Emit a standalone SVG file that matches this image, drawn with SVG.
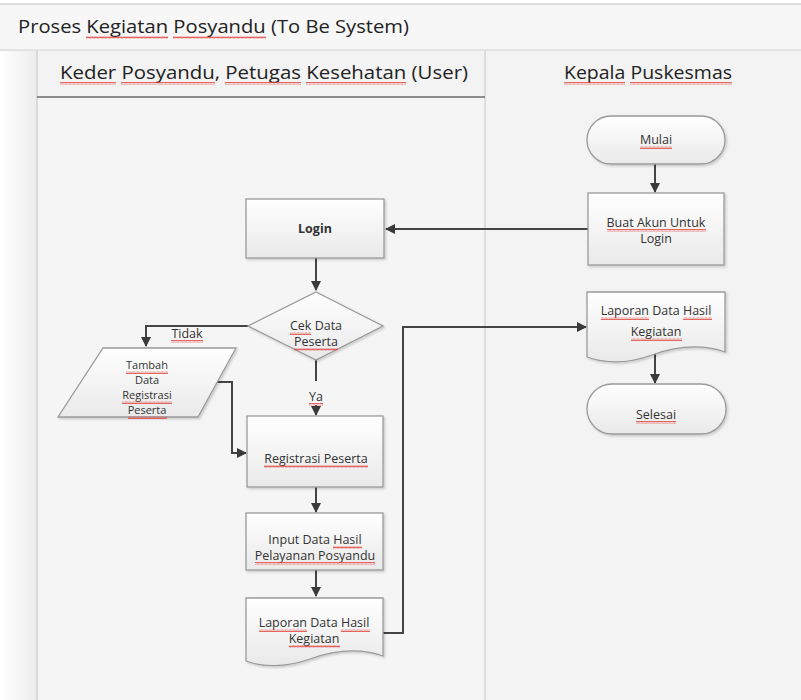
<svg xmlns="http://www.w3.org/2000/svg" width="801" height="700" viewBox="0 0 801 700">
<defs>
<linearGradient id="nodeGrad" x1="0" y1="0" x2="0" y2="1">
<stop offset="0" stop-color="#ffffff"/>
<stop offset="1" stop-color="#e9e9e9"/>
</linearGradient>
<linearGradient id="leftFade" x1="0" y1="0" x2="1" y2="0">
<stop offset="0" stop-color="#ffffff"/>
<stop offset="1" stop-color="#ececec"/>
</linearGradient>
<marker id="arr" viewBox="0 0 10 10" refX="9" refY="5" markerWidth="5" markerHeight="5" orient="auto" markerUnits="strokeWidth">
<path d="M0,0 L10,5 L0,10 z" fill="#3a3a3a"/>
</marker>
<pattern id="squig" x="0" y="0" width="4" height="3" patternUnits="userSpaceOnUse">
<path d="M0,2.4 L1,0.6 L2,2.4 L3,0.6 L4,2.4" fill="none" stroke="#e0403a" stroke-width="0.8"/>
</pattern>
<filter id="sh" x="-10%" y="-10%" width="130%" height="130%">
<feDropShadow dx="1.5" dy="1.5" stdDeviation="1.2" flood-color="#000" flood-opacity="0.18"/>
</filter>
</defs>
<style>
.node{fill:url(#nodeGrad);stroke:#9a9a9a;stroke-width:1.3;filter:url(#sh)}
.t{font-family:"Open Sans","Liberation Sans",sans-serif;font-size:12.5px;fill:#333;text-anchor:middle}
.ts{font-size:11px}
.hdr{font-family:"Open Sans","Liberation Sans",sans-serif;font-size:18px;fill:#222}
.conn{fill:none;stroke:#444;stroke-width:2;marker-end:url(#arr)}
.line{fill:none;stroke:#444;stroke-width:2}
.sq{fill:url(#squig)}
</style>

<!-- background -->
<rect x="0" y="0" width="801" height="700" fill="#f2f2f2"/>
<rect x="0" y="0" width="801" height="4" fill="#ffffff"/>
<line x1="0" y1="4" x2="801" y2="4" stroke="#d4d4d4" stroke-width="1.5"/>
<rect x="0" y="5" width="801" height="45" fill="#f7f7f7"/>
<line x1="0" y1="50" x2="801" y2="50" stroke="#dcdcdc" stroke-width="1.5"/>
<rect x="0" y="51" width="37" height="649" fill="url(#leftFade)"/>
<rect x="37" y="51" width="764" height="649" fill="#f3f3f3"/>
<rect x="38" y="98" width="446" height="602" fill="#f5f5f5"/>
<line x1="37" y1="51" x2="37" y2="700" stroke="#d2d2d2" stroke-width="1.5"/>
<line x1="485" y1="51" x2="485" y2="700" stroke="#d6d6d6" stroke-width="1.5"/>
<line x1="37" y1="97" x2="485" y2="97" stroke="#6a6a6a" stroke-width="1.5"/>

<g id="title">
<text class="hdr" x="18" y="33" textLength="391" lengthAdjust="spacingAndGlyphs">Proses Kegiatan Posyandu (To Be System)</text>
<rect class="sq" x="86" y="36" width="82" height="3"/>
<rect class="sq" x="173" y="36" width="93" height="3"/>
</g>
<g id="lane-user">
<text class="hdr" x="60" y="79" textLength="408" lengthAdjust="spacingAndGlyphs">Keder Posyandu, Petugas Kesehatan (User)</text>
<rect class="sq" x="60" y="82" width="56" height="3"/>
<rect class="sq" x="121" y="82" width="94" height="3"/>
<rect class="sq" x="225" y="82" width="76" height="3"/>
<rect class="sq" x="306" y="82" width="100" height="3"/>
</g>
<g id="lane-kepala">
<text class="hdr" x="564" y="79" textLength="168" lengthAdjust="spacingAndGlyphs">Kepala Puskesmas</text>
<rect class="sq" x="564" y="82" width="61" height="3"/>
<rect class="sq" x="630" y="82" width="102" height="3"/>
</g>

<!-- connectors -->
<g id="connectors">
<line class="conn" x1="655" y1="164" x2="655" y2="192"/>
<line class="conn" x1="588" y1="229" x2="386" y2="229"/>
<line class="conn" x1="316" y1="258" x2="316" y2="290"/>
<polyline class="conn" points="248,326 146,326 146,346"/>
<line class="line" x1="316" y1="360" x2="316" y2="381"/>
<line class="conn" x1="316" y1="405" x2="316" y2="415"/>
<polyline class="conn" points="217,382 232,382 232,453 246,453"/>
<line class="conn" x1="316" y1="487" x2="316" y2="512"/>
<line class="conn" x1="316" y1="570" x2="316" y2="596"/>
<polyline class="conn" points="383,633 403,633 403,327 586,327"/>
<line class="conn" x1="655" y1="353" x2="655" y2="383"/>
<text class="t" x="187" y="338">Tidak</text>
<rect class="sq" x="171" y="340" width="32" height="3"/>
<text class="t" x="316" y="401">Ya</text>
<rect class="sq" x="309" y="403" width="14" height="3"/>
</g>

<g id="mulai">
<rect class="node" x="587" y="116" width="138" height="48" rx="24"/>
<text class="t" x="656" y="144">Mulai</text>
<rect class="sq" x="640" y="146" width="32" height="3"/>
</g>
<g id="buat-akun">
<rect class="node" x="588" y="193" width="136" height="72"/>
<text class="t" x="656" y="227">Buat Akun Untuk</text>
<text class="t" x="656" y="243">Login</text>
<rect class="sq" x="607" y="229" width="99" height="3"/>
</g>
<g id="login">
<rect class="node" x="246" y="199" width="138" height="59"/>
<text class="t" x="315" y="233" font-weight="bold">Login</text>
</g>
<g id="cek-data">
<polygon class="node" points="316,292 383,326 316,360 248,326"/>
<text class="t" x="316" y="330">Cek Data</text>
<text class="t" x="316" y="346">Peserta</text>
<rect class="sq" x="290" y="332" width="21" height="3"/>
<rect class="sq" x="294" y="348" width="44" height="3"/>
</g>
<g id="tambah-data">
<polygon class="node" points="103,348 236,348 198,417 58,417"/>
<text class="t ts" x="147" y="369">Tambah</text>
<text class="t ts" x="147" y="384">Data</text>
<text class="t ts" x="147" y="399">Registrasi</text>
<text class="t ts" x="147" y="414">Peserta</text>
<rect class="sq" x="126" y="371" width="42" height="3"/>
<rect class="sq" x="122" y="401" width="50" height="3"/>
<rect class="sq" x="128" y="416" width="39" height="3"/>
</g>
<g id="registrasi">
<rect class="node" x="247" y="416" width="136" height="71"/>
<text class="t" x="316" y="463">Registrasi Peserta</text>
<rect class="sq" x="264" y="465" width="104" height="3"/>
</g>
<g id="input-data">
<rect class="node" x="246" y="513" width="137" height="57"/>
<text class="t" x="315" y="544">Input Data Hasil</text>
<text class="t" x="315" y="560">Pelayanan Posyandu</text>
<rect class="sq" x="333" y="546" width="29" height="3"/>
<rect class="sq" x="255" y="562" width="120" height="3"/>
</g>
<g id="laporan-user">
<path class="node" d="M246,598 H383 V656 C360,648 335,650 310,659 C285,668 262,667 246,661 Z"/>
<text class="t" x="314" y="627">Laporan Data Hasil</text>
<text class="t" x="314" y="643">Kegiatan</text>
<rect class="sq" x="259" y="629" width="48" height="3"/>
<rect class="sq" x="341" y="629" width="29" height="3"/>
<rect class="sq" x="289" y="645" width="51" height="3"/>
</g>
<g id="laporan-kepala">
<path class="node" d="M587,292 H725 V352 C702,344 677,346 652,355 C627,364 604,363 587,357 Z"/>
<text class="t" x="656" y="315">Laporan Data Hasil</text>
<text class="t" x="656" y="336">Kegiatan</text>
<rect class="sq" x="601" y="317" width="48" height="3"/>
<rect class="sq" x="683" y="317" width="29" height="3"/>
<rect class="sq" x="631" y="338" width="51" height="3"/>
</g>
<g id="selesai">
<rect class="node" x="587" y="384" width="139" height="50" rx="25"/>
<text class="t" x="656" y="419">Selesai</text>
<rect class="sq" x="636" y="421" width="40" height="3"/>
</g>
</svg>
